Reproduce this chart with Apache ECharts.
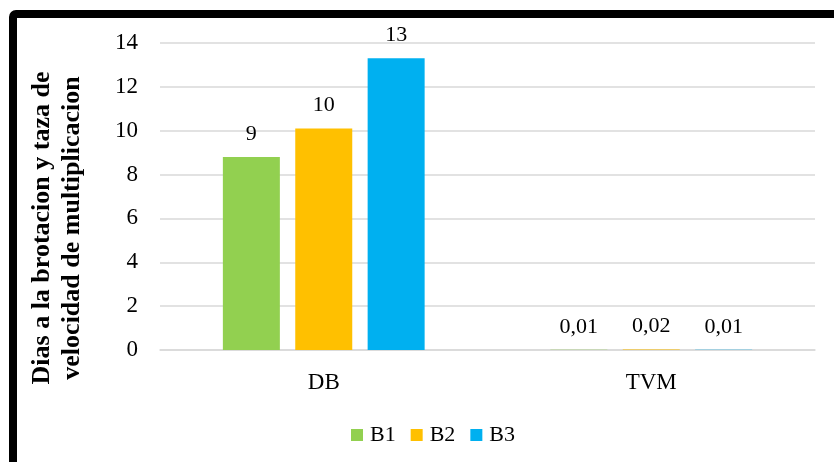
<!DOCTYPE html>
<html>
<head>
  <meta charset="utf-8">
  <title>DB / TVM</title>
  <script src="https://cdn.jsdelivr.net/npm/echarts@6/dist/echarts.min.js"></script>
  <style>
    html, body { margin: 0; padding: 0; background: #fff; }
    #chart { width: 834px; height: 462px; }
  </style>
</head>
<body>
<div id="chart"></div>
<script>
  // datos
  var categories = ['DB', 'TVM'];
  var b1 = [8.8, 0.01];
  var b2 = [10.1, 0.02];
  var b3 = [13.3, 0.01];
  var yTicks = [0, 2, 4, 6, 8, 10, 12, 14];
  var yTitle = 'Dias a la brotacion y taza de\nvelocidad de multiplicacion';

  var serif = '"Liberation Serif", "Times New Roman", serif';

  // 9 / 10 / 13 para enteros grandes, 0,01 para los pequeños
  function fmt(p) {
    var v = p.value;
    if (v < 1) return v.toFixed(2).replace('.', ',');
    return String(Math.round(v));
  }

  function bar(name, data, color) {
    return {
      name: name,
      type: 'bar',
      data: data,
      barWidth: 57,
      barGap: '27%',
      itemStyle: {color: color},
      label: {
        show: true,
        position: 'top',
        distance: 12,
        formatter: fmt,
        fontFamily: serif,
        fontSize: 22,
        color: '#000'
      }
    };
  }

  var chart = echarts.init(document.getElementById('chart'), null, {renderer: 'canvas'});
  chart.setOption({
    animation: false,
    backgroundColor: '#fff',
    textStyle: {fontFamily: serif},
    grid: {left: 160, right: 19, top: 43, bottom: 112},
    legend: {
      data: ['B1', 'B2', 'B3'],
      left: 346,
      top: 419,
      icon: 'rect',
      itemWidth: 12,
      itemHeight: 12,
      itemGap: 15,
      textStyle: {fontFamily: serif, fontSize: 22, color: '#000', padding: [0, 0, 0, 2]}
    },
    xAxis: {
      type: 'category',
      data: categories,
      axisTick: {show: false},
      axisLine: {lineStyle: {color: '#d9d9d9', width: 1.5}},
      axisLabel: {fontFamily: serif, fontSize: 23, color: '#000', margin: 21}
    },
    yAxis: {
      type: 'value',
      min: yTicks[0],
      max: yTicks[yTicks.length - 1],
      interval: 2,
      axisLine: {show: false},
      axisTick: {show: false},
      splitLine: {lineStyle: {color: '#d9d9d9', width: 1.5}},
      axisLabel: {fontFamily: serif, fontSize: 23, color: '#000', margin: 22}
    },
    graphic: [{
      type: 'text',
      x: 57,
      y: 228,
      rotation: Math.PI / 2,
      silent: true,
      style: {
        text: yTitle,
        font: 'bold 26px ' + serif,
        lineHeight: 30,
        fill: '#000',
        align: 'center',
        verticalAlign: 'middle'
      }
    }, {
      type: 'rect',
      z: 100,
      silent: true,
      shape: {x: 13, y: 14, width: 900, height: 600, r: 3},
      style: {fill: 'none', stroke: '#000', lineWidth: 8}
    }],
    series: [
      bar('B1', b1, '#92D050'),
      bar('B2', b2, '#FFC000'),
      bar('B3', b3, '#00B0F0')
    ]
  });
</script>
</body>
</html>
